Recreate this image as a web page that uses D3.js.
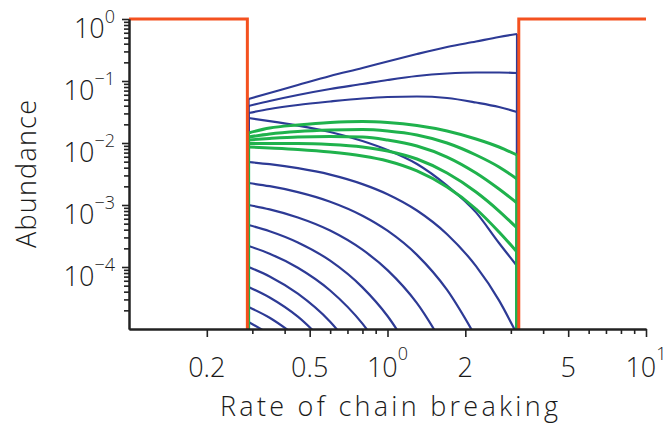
<!DOCTYPE html>
<html><head><meta charset="utf-8">
<script src="https://cdn.jsdelivr.net/npm/d3@7"></script>
<style>
body{margin:0;background:#fff}
svg{display:block}
text{font-family:"Open Sans","DejaVu Sans",sans-serif;font-weight:300;fill:#1a1a1a}
</style>
</head><body>
<svg id="c" width="670" height="425"></svg>
<script>
// ---------------- data ----------------
const rates = [0.29, 0.35, 0.45, 0.6, 0.8, 1.0, 1.3, 1.7, 2.2, 2.7, 3.17];

const blueSeries = [
  [0.0513, 0.0640, 0.0861, 0.1205, 0.162, 0.2065, 0.272, 0.353, 0.434, 0.513, 0.573],
  [0.0395, 0.0476, 0.0595, 0.0743, 0.0895, 0.1038, 0.1205, 0.1321, 0.137, 0.137, 0.1346],
  [0.0305, 0.0353, 0.0410, 0.0467, 0.0522, 0.0552, 0.0562, 0.0532, 0.045, 0.0381, 0.0316],
  [0.0253, 0.0226, 0.0191, 0.01504, 0.01076, 0.0077, 0.00458, 0.00205, 0.00076, 0.000244, 0.0001038],
  [0.004937, 0.004549, 0.003923, 0.003093, 0.002173, 0.001493, 0.000815, 0.000338, 0.0001031, 0.000029, 0.00000822],
  [0.002263, 0.00201, 0.001614, 0.00113, 0.000672, 0.000385, 0.0001568, 0.0000426, 0.00000735, null, null],
  [0.001, 0.000849, 0.000629, 0.000387, 0.00019, 0.0000891, 0.0000261, 0.00000438, null, null, null],
  [0.000476, 0.000378, 0.000249, 0.0001264, 0.0000469, 0.0000162, 0.00000292, null, null, null, null],
  [0.000218, 0.000164, 0.0000974, 0.0000418, 0.0000122, 0.00000326, null, null, null, null, null],
  [0.0001, 0.0000705, 0.0000371, 0.0000131, 0.00000287, null, null, null, null, null, null],
  [0.0000476, 0.0000322, 0.0000158, 0.00000495, null, null, null, null, null, null, null],
  [0.0000226, 0.0000152, 0.0000073, null, null, null, null, null, null, null, null],
  [0.000013, 0.00000828, null, null, null, null, null, null, null, null, null]
];

const greenSeries = [
  [0.0145, 0.01745, 0.01951, 0.02141, 0.02222, 0.02141, 0.01915, 0.01562, 0.0116, 0.00862, 0.0064],
  [0.0125, 0.01397, 0.01533, 0.01621, 0.01651, 0.01562, 0.01346, 0.01, 0.0064, 0.0041, 0.002627],
  [0.01118, 0.01182, 0.0125, 0.01273, 0.0125, 0.01118, 0.00895, 0.00594, 0.00328, 0.00181, 0.001077],
  [0.00981, 0.00981, 0.00981, 0.00946, 0.00862, 0.00743, 0.00552, 0.00328, 0.00162, 0.0008, 0.000426],
  [0.00862, 0.00831, 0.00786, 0.00716, 0.00617, 0.00513, 0.00354, 0.00195, 0.000862, 0.000367, 0.0001746]
];

const stepRates  = [0.1, 0.287, 0.287, 3.22, 3.22, 10];
const stepValues = [1, 1, 1e-7, 1e-7, 1, 1];

const xTickValues = [0.2, 0.5, 1, 2, 5, 10];
const xTickBase   = ["0.2", "0.5", "10", "2", "5", "10"];
const xTickSup    = ["", "", "0", "", "", "1"];
const xMinorValues = [0.3, 0.4, 0.6, 0.7, 0.8, 0.9, 3, 4, 6, 7, 8, 9];

const yTickValues = [1, 0.1, 0.01, 0.001, 0.0001];
const yTickSup    = ["0", "\u22121", "\u22122", "\u22123", "\u22124"];

const COLORS = {blue: "#2d3a95", green: "#1fb24c", orange: "#f4511f", axis: "#222"};

// ---------------- chart ----------------
const svg = d3.select("#c");
const x = d3.scaleLog().domain([0.1, 10]).range([129, 646]);
const y = d3.scaleLog().domain([1e-5, 1]).range([329, 19]);
const FLOOR = 1e-7;

svg.append("defs").append("clipPath").attr("id", "clip").append("rect")
  .attr("x", x(0.1)).attr("y", 0)
  .attr("width", x(10) - x(0.1) + 20).attr("height", y(1e-5));

const plot = svg.append("g").attr("clip-path", "url(#clip)");

const line = d3.line().x(d => x(d[0])).y(d => y(d[1])).curve(d3.curveMonotoneX);

function drawSeries(series, color, width) {
  series.forEach(vals => {
    const pts = rates.map((r, i) => [r, vals[i]]).filter(d => d[1] != null);
    plot.append("path").attr("d", line(pts))
      .attr("fill", "none").attr("stroke", color).attr("stroke-width", width);
    plot.append("line")
      .attr("x1", x(rates[0])).attr("x2", x(rates[0]))
      .attr("y1", y(FLOOR)).attr("y2", y(vals[0]))
      .attr("stroke", color).attr("stroke-width", width);
    const last = vals[vals.length - 1];
    if (last != null) {
      plot.append("line")
        .attr("x1", x(rates[rates.length - 1])).attr("x2", x(rates[rates.length - 1]))
        .attr("y1", y(FLOOR)).attr("y2", y(last))
        .attr("stroke", color).attr("stroke-width", width);
    }
  });
}
drawSeries(blueSeries, COLORS.blue, 2.2);
drawSeries(greenSeries, COLORS.green, 3);

plot.append("path")
  .attr("d", d3.line().x(d => x(d[0])).y(d => y(d[1]))(stepRates.map((r, i) => [r, stepValues[i]])))
  .attr("fill", "none").attr("stroke", COLORS.orange).attr("stroke-width", 3)
  .attr("stroke-linejoin", "miter");

// ---------------- axes ----------------
const yMinor = [];
for (let k = -5; k < 0; k++) for (let m = 2; m <= 9; m++) yMinor.push(m * Math.pow(10, k));

function styleAxis(g) {
  g.select(".domain").attr("stroke", COLORS.axis).attr("stroke-width", 2);
  g.selectAll(".tick line").attr("stroke", COLORS.axis).attr("stroke-width", 1.6);
  g.selectAll(".tick text").remove();
}

svg.append("g").attr("transform", `translate(${x(0.1)},0)`)
  .call(d3.axisLeft(y).tickValues(yMinor).tickSize(5).tickSizeOuter(0).tickFormat(""))
  .call(styleAxis);
svg.append("g").attr("transform", `translate(${x(0.1)},0)`)
  .call(d3.axisLeft(y).tickValues(yTickValues).tickSize(7).tickSizeOuter(0).tickFormat(""))
  .call(styleAxis);

svg.append("g").attr("transform", `translate(0,${y(1e-5)})`)
  .call(d3.axisBottom(x).tickValues(xMinorValues).tickSize(5).tickSizeOuter(0).tickFormat(""))
  .call(styleAxis);
svg.append("g").attr("transform", `translate(0,${y(1e-5)})`)
  .call(d3.axisBottom(x).tickValues(xTickValues).tickSize(8).tickSizeOuter(0).tickFormat(""))
  .call(styleAxis);

// y tick labels
yTickValues.forEach((v, i) => {
  const t = svg.append("text").attr("x", 115).attr("y", y(v) + 19)
    .attr("text-anchor", "end").style("font-size", "27px");
  t.append("tspan").text("10");
  t.append("tspan").attr("dy", -15).style("font-size", "18px").text(yTickSup[i]);
});

// x tick labels
xTickValues.forEach((v, i) => {
  const t = svg.append("text").attr("x", x(v)).attr("y", 377)
    .attr("text-anchor", "middle").style("font-size", "27px");
  t.append("tspan").text(xTickBase[i]);
  if (xTickSup[i]) t.append("tspan").attr("dy", -17).style("font-size", "18px").text(xTickSup[i]);
});

// axis titles
svg.append("text").attr("x", 389).attr("y", 416)
  .attr("text-anchor", "middle").style("font-size", "27px")
  .attr("textLength", 338).attr("lengthAdjust", "spacing")
  .text("Rate of chain breaking");

svg.append("text").attr("transform", "translate(36,174) rotate(-90)")
  .attr("text-anchor", "middle").style("font-size", "27px")
  .attr("textLength", 148).attr("lengthAdjust", "spacing")
  .text("Abundance");
</script>
</body></html>
